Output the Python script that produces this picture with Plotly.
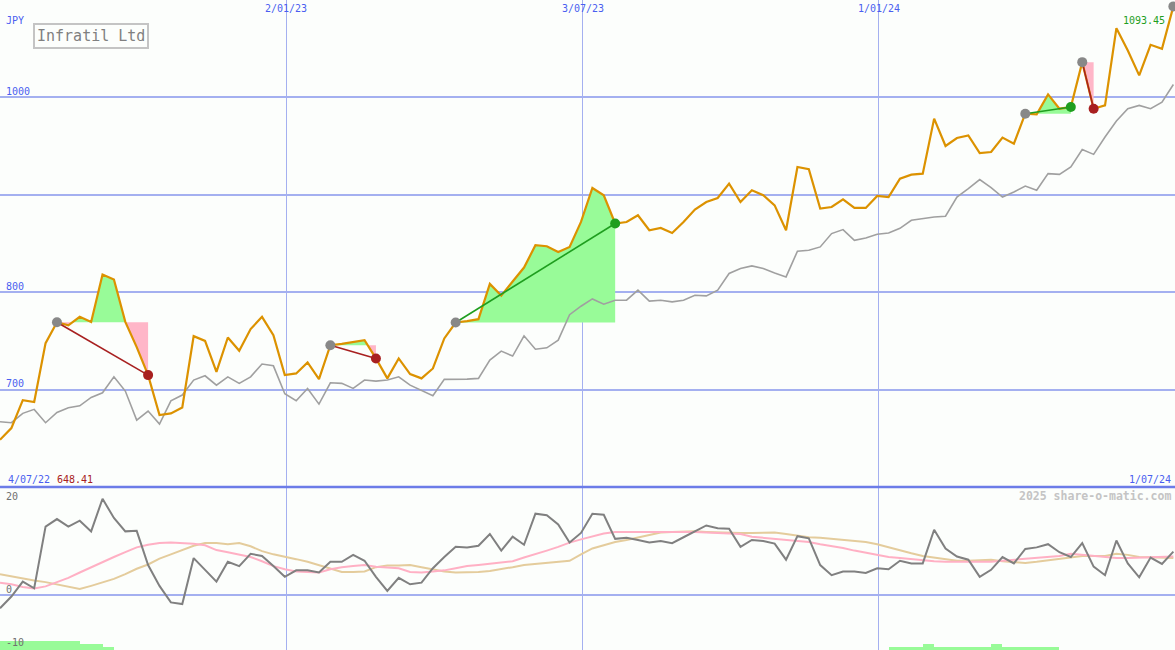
import pandas as pd
import plotly.graph_objects as go

# ---------------- data ----------------
dates = pd.date_range("2022-07-10", periods=104, freq="7D")

price = [648.41, 660.5, 689.2, 687.2, 747.7, 769.2, 766.0, 774.7, 769.5, 818.2,
         813.0, 769.5, 743.6, 714.9, 673.8, 675.6, 681.7, 754.9, 750.0, 718.3,
         753.5, 739.8, 762.1, 774.7, 755.9, 714.9, 716.6, 727.9, 710.8, 745.6,
         747.0, 749.0, 750.8, 732.0, 711.5, 732.0, 715.9, 711.5, 721.7, 752.5,
         768.9, 770.3, 772.3, 808.5, 796.5, 811.0, 825.3, 848.2, 847.2, 841.3,
         846.5, 872.1, 907.0, 899.5, 870.5, 872.1, 879.0, 863.6, 865.9, 860.8,
         872.1, 884.8, 892.6, 896.7, 911.5, 892.6, 904.6, 899.5, 889.2, 863.6,
         928.5, 926.2, 885.8, 887.5, 895.4, 886.5, 886.5, 898.8, 897.7, 916.6,
         920.7, 921.7, 978.2, 950.1, 958.3, 961.0, 942.9, 943.9, 958.7, 952.5,
         983.3, 982.6, 1003.1, 988.4, 990.1, 1036.2, 988.4, 991.8, 1071.1, 1048.2,
         1022.6, 1054.0, 1049.9, 1093.45]

bench = [667.0, 666.0, 675.6, 679.7, 666.0, 676.6, 681.3, 683.4, 692.0, 696.7,
         713.1, 698.5, 668.7, 678.0, 664.6, 688.5, 694.4, 709.8, 714.2, 704.6,
         713.1, 706.4, 713.1, 726.2, 724.4, 695.7, 688.5, 701.2, 685.1, 707.0,
         706.4, 701.2, 709.8, 708.7, 709.8, 713.1, 704.6, 699.5, 693.6, 710.5,
         710.5, 710.8, 711.5, 730.3, 739.5, 734.4, 755.2, 741.5, 742.9, 750.8,
         776.9, 785.6, 793.1, 787.7, 791.8, 791.8, 802.1, 790.8, 791.8, 790.1,
         791.8, 796.9, 796.2, 802.1, 819.2, 824.3, 827.0, 824.3, 819.8, 815.7,
         842.1, 843.1, 846.5, 860.2, 864.3, 853.3, 855.7, 859.5, 860.8, 865.6,
         873.8, 875.6, 877.2, 878.0, 897.7, 906.4, 915.6, 907.4, 897.7, 902.9,
         909.0, 904.6, 921.7, 921.0, 928.5, 946.4, 941.5, 959.3, 975.7, 988.4,
         991.8, 988.4, 995.2, 1013.3]

momentum = [-2.5, -0.3, 2.5, 1.25, 12.8, 14.2, 12.8, 13.9, 11.9, 18.0,
            14.4, 11.9, 12.0, 5.6, 1.7, -1.4, -1.7, 6.9, 4.7, 2.5,
            6.2, 5.4, 7.7, 7.3, 5.4, 3.4, 4.6, 4.6, 4.2, 6.2,
            6.2, 7.5, 6.4, 3.4, 0.75, 3.2, 2.0, 2.3, 5.0, 7.1,
            9.0, 8.9, 9.2, 11.4, 8.3, 10.9, 9.4, 15.2, 14.9, 13.2,
            9.8, 11.6, 15.2, 15.0, 10.5, 10.7, 10.3, 9.8, 10.1, 9.7,
            10.8, 11.9, 13.0, 12.5, 12.4, 9.0, 10.3, 10.1, 9.6, 6.6,
            11.0, 10.6, 5.6, 3.7, 4.4, 4.4, 4.1, 5.0, 4.8, 6.4,
            5.9, 5.9, 12.2, 8.7, 7.2, 6.6, 3.4, 4.7, 7.1, 5.9,
            8.6, 8.9, 9.5, 8.0, 7.1, 9.7, 5.3, 3.7, 10.2, 5.9,
            3.3, 7.0, 5.8, 8.1]

mom_fast = [2.3, 2.0, 1.5, 1.2, 1.6, 2.4, 3.2, 4.2, 5.2, 6.2,
            7.1, 8.0, 8.9, 9.4, 9.7, 9.8, 9.7, 9.6, 9.3, 8.4,
            8.0, 7.5, 7.1, 6.3, 5.4, 4.8, 4.4, 4.3, 4.2, 4.8,
            5.2, 5.4, 5.6, 5.3, 5.1, 5.0, 4.3, 4.2, 4.4, 4.6,
            5.0, 5.4, 5.6, 5.8, 6.0, 6.3, 7.0, 7.6, 8.3, 9.0,
            9.8, 10.4, 10.9, 11.5, 11.8, 11.8, 11.9, 11.9, 11.9, 11.9,
            11.9, 11.8, 11.7, 11.6, 11.5, 11.4, 10.9, 10.7, 10.6, 10.4,
            10.2, 9.9, 9.5, 9.2, 8.8, 8.3, 7.9, 7.5, 7.1, 6.9,
            6.7, 6.4, 6.3, 6.2, 6.2, 6.2, 6.2, 6.2, 6.4, 6.6,
            6.7, 6.9, 7.1, 7.3, 7.7, 7.5, 7.2, 7.1, 6.9, 6.9,
            7.0, 7.1, 7.2, 7.2]

mom_slow = [3.9, 3.5, 3.0, 2.7, 2.4, 2.0, 1.6, 1.1, 1.7, 2.3,
            3.0, 3.9, 4.9, 5.7, 6.8, 7.6, 8.4, 9.2, 9.7, 9.7,
            9.5, 9.7, 9.1, 8.2, 7.6, 7.2, 6.7, 6.2, 5.6, 5.0,
            4.3, 4.3, 4.4, 5.2, 5.5, 5.5, 5.6, 5.2, 4.8, 4.4,
            4.2, 4.2, 4.3, 4.5, 4.8, 5.2, 5.6, 5.8, 6.0, 6.2,
            6.4, 7.6, 8.7, 9.3, 9.9, 10.3, 10.8, 11.3, 11.7, 11.8,
            11.9, 11.9, 11.8, 11.7, 11.7, 11.6, 11.6, 11.7, 11.7, 11.4,
            11.1, 10.8, 10.7, 10.5, 10.4, 10.2, 9.9, 9.5, 8.9, 8.3,
            7.8, 7.3, 7.0, 6.7, 6.4, 6.4, 6.5, 6.6, 6.3, 6.1,
            6.0, 6.2, 6.5, 6.7, 7.0, 7.3, 7.3, 7.3, 7.7, 7.5,
            7.1, 7.0, 6.9, 6.9]

bar_levels = [3, 3, 3, 3, 3, 3, 3, 2, 2, 1] + [0] * 68 + \
             [1, 1, 1, 2, 1, 1, 1, 1, 1, 2, 1, 1, 1, 1, 1] + [0] * 11

sig_start = [5, 29, 40, 90, 95]
sig_end = [13, 33, 54, 94, 96]

x_ticks = ["2023-01-02", "2023-07-03", "2024-01-01"]
x_tick_text = ["2/01/23", "3/07/23", "1/01/24"]
price_grid = [1000, 900, 800, 700]
price_labels = [1000, 800, 700]
mom_ticks = [20, 0, -10]

# ---------------- style ----------------
BG = "#fcfefc"
GRID = "#a4b0f0"
SEP = "#6c7ce8"
BLUE = "#4a5ef0"
ORANGE = "#dc9200"
GREEN_FILL = "#98fb98"
PINK_FILL = "#ffb6c8"
GREEN = "#1f9e1f"
RED = "#a82020"
MGRAY = "#888888"
FONT = "DejaVu Sans Mono"

fig = go.Figure()


def seg_with_crossings(xs, ys, base):
    """add crossing points with base so fills split cleanly"""
    ox, oy = [xs[0]], [ys[0]]
    for k in range(1, len(xs)):
        y0, y1 = ys[k - 1], ys[k]
        if (y0 - base) * (y1 - base) < 0:
            f = (base - y0) / (y1 - y0)
            ox.append(xs[k - 1] + (xs[k] - xs[k - 1]) * f)
            oy.append(base)
        ox.append(xs[k])
        oy.append(ys[k])
    return ox, oy


# fills for signals
for s, e in zip(sig_start, sig_end):
    base = price[s]
    xs = list(dates[s:e + 1])
    ys = price[s:e + 1]
    cx, cy = seg_with_crossings(xs, ys, base)
    up = [max(v, base) for v in cy]
    dn = [min(v, base) for v in cy]
    for vals, col in ((up, GREEN_FILL), (dn, PINK_FILL)):
        fig.add_trace(go.Scatter(x=cx, y=[base] * len(cx), mode="lines",
                                 line=dict(width=0, color=col), showlegend=False,
                                 hoverinfo="skip", xaxis="x", yaxis="y"))
        fig.add_trace(go.Scatter(x=cx, y=vals, mode="lines", fill="tonexty",
                                 fillcolor=col, line=dict(width=0, color=col),
                                 showlegend=False, hoverinfo="skip",
                                 xaxis="x", yaxis="y"))

# benchmark line
fig.add_trace(go.Scatter(x=dates, y=bench, mode="lines",
                         line=dict(color="#a0a0a0", width=1.6),
                         showlegend=False, xaxis="x", yaxis="y"))
# price line
fig.add_trace(go.Scatter(x=dates, y=price, mode="lines",
                         line=dict(color=ORANGE, width=2.2),
                         showlegend=False, xaxis="x", yaxis="y"))

# signal lines and markers
for s, e in zip(sig_start, sig_end):
    col = GREEN if price[e] > price[s] else RED
    fig.add_trace(go.Scatter(x=[dates[s], dates[e]], y=[price[s], price[e]],
                             mode="lines", line=dict(color=col, width=1.6),
                             showlegend=False, xaxis="x", yaxis="y"))
for s, e in zip(sig_start, sig_end):
    col = GREEN if price[e] > price[s] else RED
    fig.add_trace(go.Scatter(x=[dates[s]], y=[price[s]], mode="markers",
                             marker=dict(color=MGRAY, size=10),
                             showlegend=False, xaxis="x", yaxis="y"))
    fig.add_trace(go.Scatter(x=[dates[e]], y=[price[e]], mode="markers",
                             marker=dict(color=col, size=10),
                             showlegend=False, xaxis="x", yaxis="y"))
fig.add_trace(go.Scatter(x=[dates[-1]], y=[price[-1]], mode="markers",
                         marker=dict(color=MGRAY, size=10),
                         showlegend=False, xaxis="x", yaxis="y"))

# lower panel bars
fig.add_trace(go.Bar(x=dates, y=bar_levels, width=7 * 24 * 3600 * 1000,
                     offset=0, marker=dict(color=GREEN_FILL, line=dict(width=0)),
                     showlegend=False, xaxis="x2", yaxis="y3"))
# lower panel lines
fig.add_trace(go.Scatter(x=dates, y=mom_slow, mode="lines",
                         line=dict(color="#e4cc9c", width=2),
                         showlegend=False, xaxis="x2", yaxis="y2"))
fig.add_trace(go.Scatter(x=dates, y=mom_fast, mode="lines",
                         line=dict(color="#ffb0c4", width=2),
                         showlegend=False, xaxis="x2", yaxis="y2"))
fig.add_trace(go.Scatter(x=dates, y=momentum, mode="lines",
                         line=dict(color="#808080", width=2),
                         showlegend=False, xaxis="x2", yaxis="y2"))

split = 163 / 650
xrange_ = ["2022-07-10", "2024-07-01"]
xcommon = dict(type="date", range=xrange_, tickvals=x_ticks, showticklabels=False,
               showgrid=True, gridcolor=GRID, gridwidth=1, zeroline=False,
               ticks="", showline=False, fixedrange=True)

fig.update_layout(
    width=1175, height=650,
    margin=dict(l=0, r=0, t=0, b=0, pad=0),
    paper_bgcolor=BG, plot_bgcolor=BG,
    showlegend=False, bargap=0, hovermode=False,
    xaxis=dict(domain=[0, 1], anchor="y", **xcommon),
    xaxis2=dict(domain=[0, 1], anchor="y2", matches="x", **xcommon),
    yaxis=dict(domain=[split, 1], range=[600, 1100], tickvals=price_grid,
               showticklabels=False, showgrid=True, gridcolor=GRID, gridwidth=2,
               zeroline=False, ticks="", fixedrange=True),
    yaxis2=dict(domain=[0, split], range=[-10.3, 20.2], tickvals=[0],
                showticklabels=False, showgrid=True, gridcolor=GRID, gridwidth=2,
                zeroline=False, ticks="", fixedrange=True),
    yaxis3=dict(overlaying="y2", range=[0, 54.33], visible=False,
                fixedrange=True),
)

# separator between panels
fig.add_shape(type="line", xref="paper", yref="paper", x0=0, x1=1,
              y0=split, y1=split, line=dict(color=SEP, width=2.5), layer="above")

ann = []
# top date labels
for d, t in zip(x_ticks, x_tick_text):
    ann.append(dict(x=d, xref="x", y=1 - 8 / 650, yref="paper", text=t,
                    showarrow=False, xanchor="center", yanchor="middle",
                    font=dict(family=FONT, size=10, color=BLUE)))
# price axis labels
for v in price_labels:
    ann.append(dict(x=4 / 1175, xref="paper", y=v, yref="y", text=str(v),
                    showarrow=False, xanchor="left", yanchor="middle", yshift=6,
                    font=dict(family=FONT, size=10, color=BLUE)))
# momentum labels
for v, ypix in zip(mom_ticks, [496, 589, 642]):
    ann.append(dict(x=4 / 1175, xref="paper", y=1 - ypix / 650, yref="paper",
                    text=str(v), showarrow=False, xanchor="left",
                    yanchor="middle",
                    font=dict(family=FONT, size=10, color="#707070")))
ann += [
    dict(x=4 / 1175, xref="paper", y=1 - 21 / 650, yref="paper", text="JPY",
         showarrow=False, xanchor="left", yanchor="middle",
         font=dict(family=FONT, size=10, color=BLUE)),
    dict(x=90.5 / 1175, xref="paper", y=1 - 36.3 / 650, yref="paper",
         text="Infratil Ltd", showarrow=False, xanchor="center",
         yanchor="middle", bordercolor="#c4c4c4", borderwidth=2, borderpad=2,
         bgcolor=BG, font=dict(family=FONT, size=15, color="#808080")),
    dict(x=1167 / 1175, xref="paper", y=1 - 21 / 650, yref="paper",
         text=f"{price[-1]:.2f}", showarrow=False, xanchor="right",
         yanchor="middle", font=dict(family=FONT, size=10, color="#1f9e1f")),
    dict(x=6 / 1175, xref="paper", y=1 - 479 / 650, yref="paper",
         text="4/07/22", showarrow=False, xanchor="left", yanchor="middle",
         font=dict(family=FONT, size=10, color=BLUE)),
    dict(x=55 / 1175, xref="paper", y=1 - 479 / 650, yref="paper",
         text=f"{price[0]:.2f}", showarrow=False, xanchor="left",
         yanchor="middle", font=dict(family=FONT, size=10, color=RED)),
    dict(x=1173 / 1175, xref="paper", y=1 - 479 / 650, yref="paper",
         text="1/07/24", showarrow=False, xanchor="right", yanchor="middle",
         font=dict(family=FONT, size=10, color=BLUE)),
    dict(x=1173 / 1175, xref="paper", y=1 - 496 / 650, yref="paper",
         text="<b>2025 share-o-matic.com</b>", showarrow=False,
         xanchor="right", yanchor="middle",
         font=dict(family=FONT, size=11.5, color="#c4c4c4")),
]
fig.update_layout(annotations=ann)

fig.write_html(
    "out.html",
    config={"displayModeBar": False, "staticPlot": True},
    post_script="document.body.style.margin='0';document.body.style.padding='0';"
                "document.documentElement.style.overflow='hidden';",
)
